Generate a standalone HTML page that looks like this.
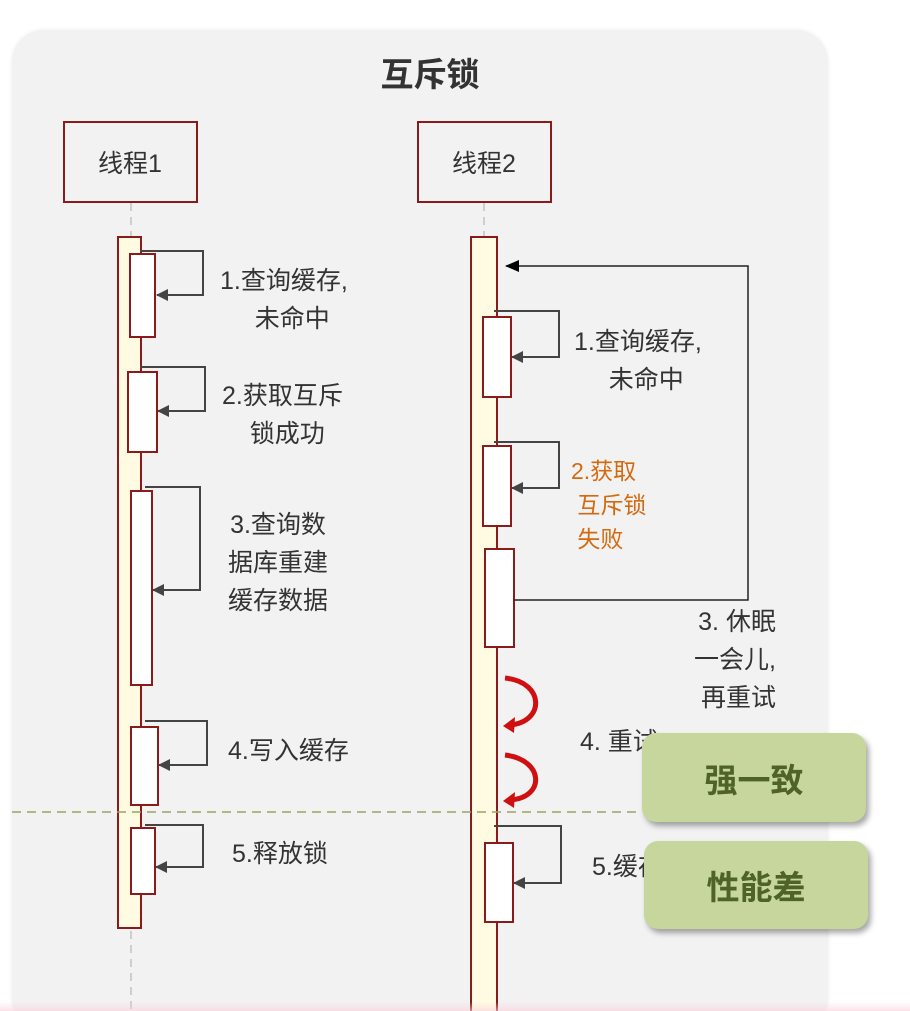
<!DOCTYPE html>
<html style="overflow:hidden;height:1011px"><head><meta charset="utf-8"><style>
body{margin:0;width:910px;height:1011px;background:#fff;overflow:hidden;position:relative;font-family:"Liberation Sans","Noto Sans CJK SC",sans-serif}
.a{position:absolute}
.t{position:absolute;font-size:25px;color:#333;line-height:38px;text-align:center;white-space:nowrap}
.g{position:absolute;background:#c6d69d;border-radius:14px;box-shadow:3px 4px 6px rgba(0,0,0,.35);color:#4f6228;font-weight:bold;font-size:33px;display:flex;align-items:center;justify-content:center}
</style></head><body>
<div class="a" style="left:48px;top:-14px;width:180px;height:18px;color:#a02020;font-weight:bold;font-size:24px;line-height:18px;overflow:hidden"><span style="position:relative;top:-12px">缓存击穿</span></div>
<div class="a" style="left:12px;top:30px;width:816px;height:1000px;background:#f2f2f2;border-radius:32px;box-shadow:0 0 4px rgba(0,0,0,.08)"></div>
<div class="a" style="left:330px;top:48px;width:200px;text-align:center;font-weight:bold;font-size:33px;color:#333">互斥锁</div>
<svg class="a" style="left:0;top:0" width="910" height="1011">
<defs><marker id="ah" markerWidth="12" markerHeight="12" refX="11" refY="6" orient="auto" markerUnits="userSpaceOnUse"><path d="M0,0L12,6L0,12z" fill="#444"/></marker>
<marker id="ab" markerWidth="14" markerHeight="12" refX="13" refY="6" orient="auto" markerUnits="userSpaceOnUse"><path d="M0,0L14,6L0,12z" fill="#000"/></marker></defs>
<rect x="64" y="122" width="133" height="80" fill="#f2f2f2" stroke="#8b1a1a" stroke-width="2"/>
<rect x="418" y="122" width="133" height="80" fill="#f2f2f2" stroke="#8b1a1a" stroke-width="2"/>
<text x="130" y="172" font-size="25" text-anchor="middle" fill="#333" font-family="Liberation Sans,Noto Sans CJK SC,sans-serif">线程1</text>
<text x="484" y="172" font-size="25" text-anchor="middle" fill="#333" font-family="Liberation Sans,Noto Sans CJK SC,sans-serif">线程2</text>
<line x1="131" y1="203" x2="131" y2="1011" stroke="#aaa" stroke-dasharray="8,6"/>
<line x1="484" y1="203" x2="484" y2="237" stroke="#aaa" stroke-dasharray="8,6"/>
<rect x="118" y="237" width="23" height="691" fill="#fffbe3" stroke="#8b1a1a" stroke-width="2"/>
<rect x="471" y="237" width="26" height="780" fill="#fffbe3" stroke="#8b1a1a" stroke-width="2"/>
<line x1="12" y1="812" x2="640" y2="812" stroke="#9aa660" stroke-width="1.5" stroke-dasharray="9,6"/>
<g fill="#fff" stroke="#8b1a1a" stroke-width="2">
<rect x="130" y="254" width="25" height="83"/><rect x="128" y="372" width="29" height="80"/><rect x="131" y="491" width="21" height="194"/>
<rect x="131" y="727" width="27" height="78"/><rect x="131" y="828" width="24" height="66"/>
<rect x="483" y="317" width="28" height="80"/><rect x="483" y="446" width="28" height="80"/><rect x="485" y="549" width="29" height="98"/><rect x="485" y="843" width="28" height="79"/>
</g>
<g fill="none" stroke="#444" stroke-width="2" marker-end="url(#ah)">
<path d="M140,251H203V295H157"/><path d="M140,367H205V411H158"/><path d="M145,487H200V590H153"/>
<path d="M145,721H207V765H159"/><path d="M145,825H203V867H156"/>
<path d="M494,311H559V357H512"/><path d="M494,442H559V488H512"/><path d="M494,826H561V883H514"/>
</g>
<path d="M514,600H748V266H506" fill="none" stroke="#222" stroke-width="1.5" marker-end="url(#ab)"/>
<g fill="none" stroke="#d01010" stroke-width="5">
<path d="M505,678C545,682 545,722 510,725"/><path d="M505,755C545,760 545,798 510,800"/>
</g>
<path d="M503,726l12,-9l-1,16z" fill="#d01010"/><path d="M503,801l12,-9l-1,16z" fill="#d01010"/>
</svg>
<div class="t" style="left:220px;top:262px;text-align:left">1.查询缓存,<br>&nbsp;&nbsp;&nbsp;&nbsp;&nbsp;未命中</div>
<div class="t" style="left:222px;top:377px;text-align:left">2.获取互斥<br>&nbsp;&nbsp;&nbsp;&nbsp;锁成功</div>
<div class="t" style="left:228px;top:506px">3.查询数<br>据库重建<br>缓存数据</div>
<div class="t" style="left:228px;top:732px">4.写入缓存</div>
<div class="t" style="left:232px;top:835px">5.释放锁</div>
<div class="t" style="left:574px;top:323px;text-align:left">1.查询缓存,<br>&nbsp;&nbsp;&nbsp;&nbsp;&nbsp;未命中</div>
<div class="a" style="left:571px;top:454px;font-size:23px;line-height:34px;color:#d46a10">2.获取<br>&nbsp;互斥锁<br>&nbsp;失败</div>
<div class="t" style="left:694px;top:603px;text-align:right">3. 休眠<br>一会儿,<br>再重试</div>
<div class="t" style="left:580px;top:723px">4. 重试</div>
<div class="t" style="left:592px;top:848px">5.缓存</div>
<div class="g" style="left:642px;top:733px;width:224px;height:89px">强一致</div>
<div class="g" style="left:644px;top:841px;width:224px;height:88px">性能差</div>
<div class="a" style="left:0;top:1002px;width:910px;height:9px;background:linear-gradient(#fff0,#f8d0da);opacity:.6"></div>
</body></html>
